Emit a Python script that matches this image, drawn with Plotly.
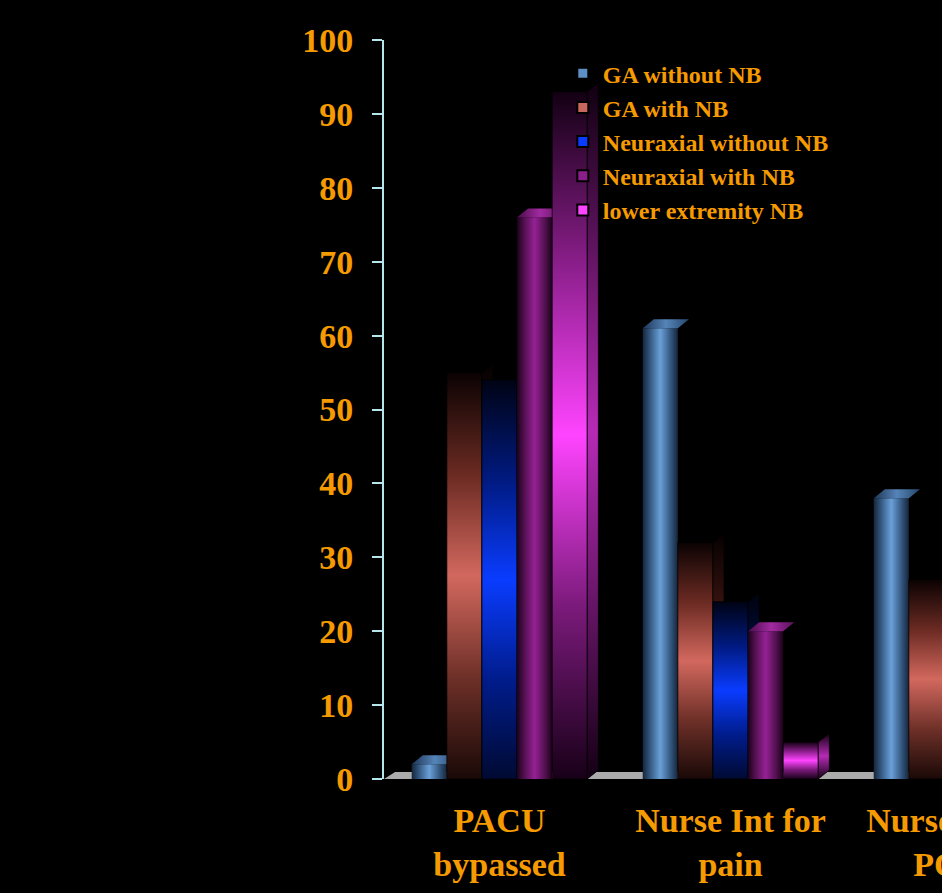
import plotly.graph_objects as go

# ---- data -------------------------------------------------------------
categories = ["PACU<br>bypassed", "Nurse Int for<br>pain", "Nurse Int for<br>PONV"]
series_names = ["GA without NB", "GA with NB", "Neuraxial without NB",
                "Neuraxial with NB", "lower extremity NB"]
ga_without_nb = [2, 61, 38]
ga_with_nb = [55, 32, 27]
neuraxial_without_nb = [54, 24, None]
neuraxial_with_nb = [76, 20, None]
lower_extremity_nb = [93, 5, None]
y_ticks = [0, 10, 20, 30, 40, 50, 60, 70, 80, 90, 100]

series_values = [ga_without_nb, ga_with_nb, neuraxial_without_nb,
                 neuraxial_with_nb, lower_extremity_nb]

# ---- styling ----------------------------------------------------------
ORANGE = "#F59A00"
AXIS = "#B4E6EC"
FONT = "Liberation Serif, Times New Roman, serif"

# shading: "cyl" = horizontal cylinder shading, "vert" = vertical glow
styles = [
    dict(kind="cyl", legend="#5E8FC4",
         scale=[[0, "#16253a"], [0.18, "#2f5178"], [0.5, "#6aa0d8"],
                [0.82, "#2f5178"], [1, "#16253a"]],
         top=[[0, "#1e3656"], [0.5, "#5584b8"], [1, "#27476c"]]),
    dict(kind="vert", legend="#C9675E",
         scale=[[0, "#1a0907"], [0.25, "#6e3028"], [0.5, "#d2685e"],
                [0.75, "#6a2a22"], [1, "#0a0202"]],
         side=[[0, "#0c0303"], [0.5, "#5a1f18"], [1, "#050101"]]),
    dict(kind="vert", legend="#0A3CFF",
         scale=[[0, "#000a32"], [0.25, "#001c8c"], [0.5, "#0a3cff"],
                [0.75, "#001a80"], [1, "#000314"]],
         side=[[0, "#000418"], [0.5, "#001466"], [1, "#00020c"]]),
    dict(kind="cyl", legend="#8A1F8A",
         scale=[[0, "#1a021a"], [0.2, "#52104f"], [0.5, "#952195"],
                [0.8, "#52104f"], [1, "#1a021a"]],
         top=[[0, "#4a0c4a"], [0.5, "#a22aa2"], [1, "#5a125a"]]),
    dict(kind="vert", legend="#FF44FF",
         scale=[[0, "#180018"], [0.25, "#7a1a7a"], [0.5, "#ff44ff"],
                [0.75, "#8a1e8a"], [1, "#120012"]],
         side=[[0, "#140014"], [0.5, "#b62ab6"], [1, "#100010"]]),
]

# bar geometry in axis units (one category = 1 unit)
GROUP_WIDTH = 0.76
BAR_W = GROUP_WIDTH / len(series_names)
DEPTH_X = 0.048   # 3D depth offset along x
DEPTH_Y = 1.2     # 3D depth offset along y

fig = go.Figure()


def poly(xs, ys, grad_type, scale, start, stop, outline):
    fig.add_trace(go.Scatter(
        x=xs, y=ys, fill="toself", mode="lines" if outline else "none",
        line=dict(color="rgba(0,0,0,0.75)", width=1),
        fillgradient=dict(type=grad_type, colorscale=scale,
                          start=start, stop=stop),
        showlegend=False, hoverinfo="skip"))


for k, cat in enumerate(categories):
    for i, vals in enumerate(series_values):
        v = vals[k]
        if v is None:
            continue
        st = styles[i]
        x0 = k - GROUP_WIDTH / 2 + i * BAR_W
        x1 = x0 + BAR_W
        if st["kind"] == "cyl":
            poly([x0, x1, x1, x0, x0], [0, 0, v, v, 0],
                 "horizontal", st["scale"], x0, x1, False)
            poly([x0, x1, x1 + DEPTH_X, x0 + DEPTH_X, x0],
                 [v, v, v + DEPTH_Y, v + DEPTH_Y, v],
                 "horizontal", st["top"], x0, x1 + DEPTH_X, False)
        else:
            poly([x0, x1, x1, x0, x0], [0, 0, v, v, 0],
                 "vertical", st["scale"], 0, v, True)
            poly([x1, x1 + DEPTH_X, x1 + DEPTH_X, x1, x1],
                 [0, DEPTH_Y, v + DEPTH_Y, v, 0],
                 "vertical", st["side"], 0, v + DEPTH_Y, True)

# legend entries
for name, st in zip(series_names, styles):
    fig.add_trace(go.Scatter(
        x=[None], y=[None], mode="markers", name=name,
        marker=dict(symbol="square", size=11, color=st["legend"],
                    line=dict(color="#000000", width=2))))

# grey floor beneath the bars
fig.add_shape(
    type="path", layer="below", xref="x", yref="y",
    path=f"M -0.5,0 L 2.5,0 L {2.5 + DEPTH_X},{DEPTH_Y * 0.8} "
         f"L {-0.5 + DEPTH_X},{DEPTH_Y * 0.8} Z",
    fillcolor="#ABABAB", line=dict(width=0))

fig.update_layout(
    width=1100, height=893,
    margin=dict(l=384, r=23, t=40, b=114),
    paper_bgcolor="#000000", plot_bgcolor="#000000",
    font=dict(family=FONT, color=ORANGE, weight="bold"),
    showlegend=True,
    legend=dict(x=0.258, y=0.985, xanchor="left", yanchor="top",
                bgcolor="rgba(0,0,0,0)",
                font=dict(family=FONT, size=24, color=ORANGE, weight="bold")),
    xaxis=dict(range=[-0.5, 2.5], tickmode="array", automargin=False,
               tickvals=list(range(len(categories))), ticktext=categories,
               showgrid=False, zeroline=False, showline=False, ticks="",
               ticklabelstandoff=18,
               tickfont=dict(family=FONT, size=34, color=ORANGE, weight="bold")),
    yaxis=dict(range=[0, 100], tickmode="array", tickvals=y_ticks,
               automargin=False,
               showgrid=False, zeroline=False, showline=True,
               linecolor=AXIS, linewidth=2, ticks="outside", ticklen=10,
               tickwidth=2, tickcolor=AXIS, ticklabelstandoff=12,
               tickfont=dict(family=FONT, size=34, color=ORANGE, weight="bold")),
)

fig.write_html(
    "out.html",
    post_script="document.documentElement.style.overflow='hidden';"
                "document.body.style.overflow='hidden';"
                "document.body.style.margin='0';")
